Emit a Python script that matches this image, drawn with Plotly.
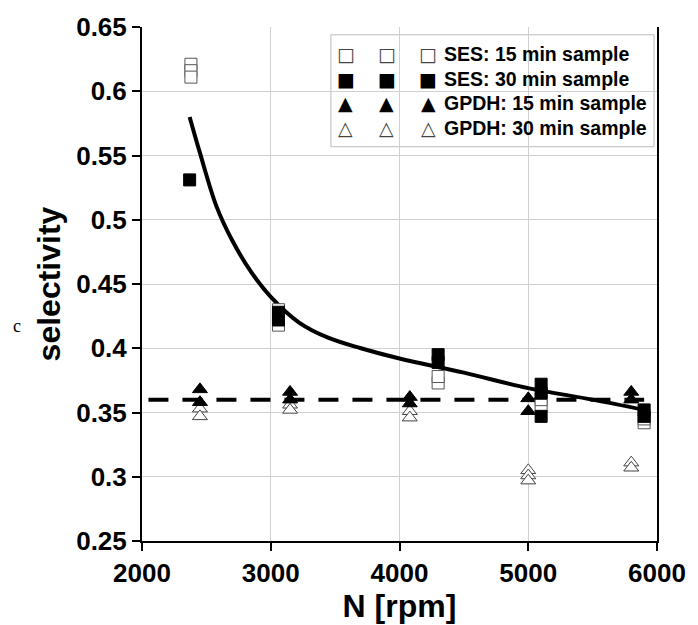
import plotly.graph_objects as go

# ---- data ----
ses15_x = [2380, 2380, 2380, 3060, 3060, 3060, 4300, 4300, 5100, 5100, 5900, 5900]
ses15_y = [0.621, 0.616, 0.611, 0.418, 0.424, 0.430, 0.373, 0.378, 0.355, 0.360, 0.342, 0.345]

ses30_x = [2370, 3060, 3060, 4300, 4300, 5100, 5100, 5100, 5900, 5900]
ses30_y = [0.531, 0.422, 0.428, 0.389, 0.395, 0.347, 0.365, 0.372, 0.347, 0.352]

gpdh15_x = [2450, 2450, 3150, 3150, 4080, 4080, 5000, 5000, 5800, 5800]
gpdh15_y = [0.368, 0.358, 0.366, 0.360, 0.362, 0.357, 0.361, 0.351, 0.366, 0.360]

gpdh30_x = [2450, 2450, 3150, 3150, 4080, 4080, 5000, 5000, 5000, 5800, 5800]
gpdh30_y = [0.353, 0.347, 0.356, 0.352, 0.351, 0.346, 0.305, 0.301, 0.297, 0.311, 0.307]

fit_x = [2370, 2450, 2580, 2700, 2850, 3000, 3220, 3450, 3700, 4000, 4500, 5000, 5500, 5900]
fit_y = [0.580, 0.552, 0.510, 0.484, 0.459, 0.440, 0.420, 0.408, 0.400, 0.392, 0.381, 0.369, 0.360, 0.352]

mean_x = [2050, 5900]
mean_y = [0.36, 0.36]

x_ticks = [2000, 3000, 4000, 5000, 6000]
y_ticks = [0.25, 0.3, 0.35, 0.4, 0.45, 0.5, 0.55, 0.6, 0.65]
y_tick_text = ["0.25", "0.3", "0.35", "0.4", "0.45", "0.5", "0.55", "0.6", "0.65"]

legend_labels = ["SES: 15 min sample", "SES: 30 min sample",
                 "GPDH: 15 min sample", "GPDH: 30 min sample"]
legend_glyphs = ["\u25A1", "\u25A0", "\u25B2", "\u25B3"]

FONT = "Liberation Sans, Arial, sans-serif"

fig = go.Figure()
fig.add_trace(go.Scatter(x=mean_x, y=mean_y, mode="lines",
                         line=dict(color="black", width=4, dash="20px,14px"),
                         showlegend=False, hoverinfo="skip"))
fig.add_trace(go.Scatter(x=fit_x, y=fit_y, mode="lines",
                         line=dict(color="black", width=4, shape="spline", smoothing=1.0),
                         showlegend=False, hoverinfo="skip"))
fig.add_trace(go.Scatter(x=gpdh30_x, y=gpdh30_y, mode="markers", name=legend_labels[3],
                         marker=dict(symbol="triangle-up", size=13, color="white",
                                     line=dict(color="#444", width=1))))
fig.add_trace(go.Scatter(x=gpdh15_x, y=gpdh15_y, mode="markers", name=legend_labels[2],
                         marker=dict(symbol="triangle-up", size=13, color="black",
                                     line=dict(color="black", width=1))))
fig.add_trace(go.Scatter(x=ses15_x, y=ses15_y, mode="markers", name=legend_labels[0],
                         marker=dict(symbol="square", size=12, color="white",
                                     line=dict(color="#555", width=1))))
fig.add_trace(go.Scatter(x=ses30_x, y=ses30_y, mode="markers", name=legend_labels[1],
                         marker=dict(symbol="square", size=12, color="black",
                                     line=dict(color="black", width=1))))

# plot-area geometry in pixels
L, R, T, B = 142, 38, 15, 82
W, H = 698, 625
pw, ph = W - L - R, H - T - B


def px(xpix):
    return (xpix - L) / pw


def py(ypix):
    return (H - B - ypix) / ph


annotations = []
# manual legend (three symbols + label per row)
row_y = [43, 68, 93, 119]
sym_x = [347, 388, 430]
for i, (lab, g) in enumerate(zip(legend_labels, legend_glyphs)):
    for sx in sym_x:
        annotations.append(dict(x=px(sx), y=py(row_y[i]), xref="paper", yref="paper",
                                text=g, showarrow=False, xanchor="center", yanchor="middle",
                                font=dict(family="DejaVu Sans", size=19,
                                          color="#444" if i in (0, 3) else "black")))
    annotations.append(dict(x=px(444), y=py(row_y[i]), xref="paper", yref="paper",
                            text="<b>" + lab + "</b>", showarrow=False,
                            xanchor="left", yanchor="middle",
                            font=dict(family=FONT, size=19.5, color="black")))
annotations.append(dict(x=px(16), y=py(322), xref="paper", yref="paper", text="c",
                        showarrow=False, xanchor="center", yanchor="middle",
                        font=dict(family="Liberation Serif", size=18, color="black")))

shapes = [dict(type="rect", xref="paper", yref="paper",
               x0=px(332), x1=px(657), y0=py(138), y1=py(23),
               line=dict(color="#bbb", width=1), fillcolor="white", layer="below")]

fig.update_layout(
    width=W, height=H,
    margin=dict(l=L, r=R, t=T, b=B, pad=0),
    paper_bgcolor="white", plot_bgcolor="white",
    showlegend=False,
    annotations=annotations,
    shapes=shapes,
    font=dict(family=FONT, color="black"),
    xaxis=dict(range=[2000, 6000], tickvals=x_ticks, ticktext=[str(v) for v in x_ticks],
               showgrid=True, gridcolor="#d0d0d0", gridwidth=1,
               showline=True, linecolor="black", linewidth=2, mirror=False,
               ticks="outside", ticklen=8, tickwidth=2, tickcolor="black",
               tickfont=dict(family=FONT, size=26, color="black", weight="bold"),
               title=dict(text="<b>N [rpm]</b>", font=dict(family=FONT, size=32), standoff=2),
               zeroline=False),
    yaxis=dict(range=[0.25, 0.65], tickvals=y_ticks, ticktext=y_tick_text,
               showgrid=True, gridcolor="#d0d0d0", gridwidth=1,
               showline=True, linecolor="black", linewidth=2, mirror=True,
               ticks="outside", ticklen=8, tickwidth=2, tickcolor="black",
               tickfont=dict(family=FONT, size=26, color="black", weight="bold"),
               title=dict(text="<b>selectivity</b>", font=dict(family=FONT, size=32), standoff=6),
               zeroline=False),
)

fig.write_html("out.html")
